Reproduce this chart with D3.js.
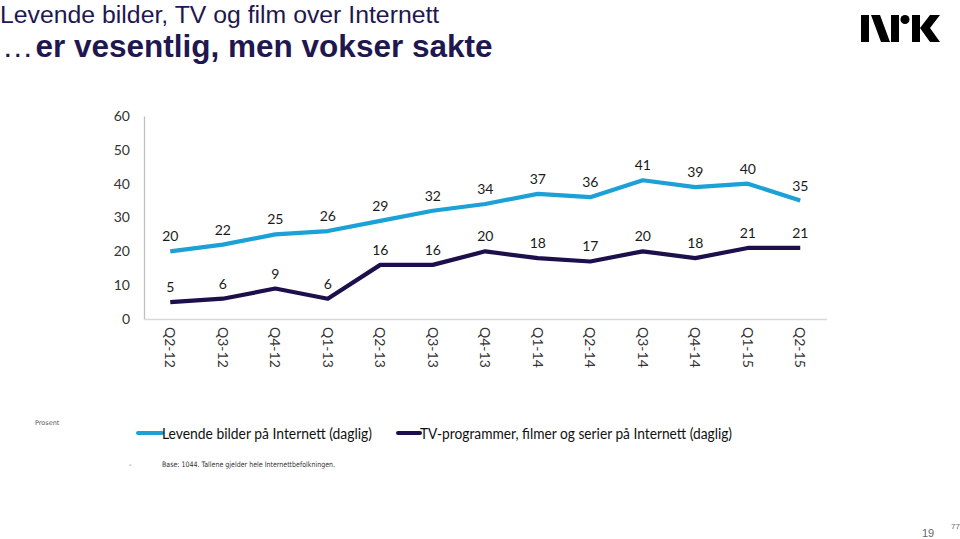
<!DOCTYPE html>
<html><head><meta charset="utf-8">
<script src="https://cdn.jsdelivr.net/npm/d3@7"></script>
<style>body{margin:0;background:#fff;}svg{display:block;}</style>
</head><body>
<svg id="c" width="960" height="539"></svg>
<script>
const categories = ["Q2-12","Q3-12","Q4-12","Q1-13","Q2-13","Q3-13","Q4-13","Q1-14","Q2-14","Q3-14","Q4-14","Q1-15","Q2-15"];
const levendeBilder = [20,22,25,26,29,32,34,37,36,41,39,40,35];
const tvProgrammer = [5,6,9,6,16,16,20,18,17,20,18,21,21];
const yTicks = [0,10,20,30,40,50,60];
const seriesNames = ["Levende bilder på Internett (daglig)","TV-programmer, filmer og serier på Internett (daglig)"];
const seriesColors = ["#1ba1d6","#1d0f4b"];

const svg = d3.select("#c");
const x = d3.scaleBand().domain(categories).range([144, 826.5]);
const y = d3.scaleLinear().domain([0,60]).range([319,116]);
const navy = "#1f1750";

// Title
svg.append("text").attr("x",0).attr("y",23).attr("font-family","Liberation Sans, Arial, sans-serif")
  .attr("font-size",24.8).attr("fill",navy).text("Levende bilder, TV og film over Internett");
const t2 = svg.append("text").attr("x",2).attr("y",57).attr("font-family","Liberation Sans, Arial, sans-serif")
  .attr("font-size",31.5).attr("fill",navy);
t2.append("tspan").text("…");
t2.append("tspan").attr("font-weight","bold").attr("dx",2).text("er vesentlig, men vokser sakte");

// NRK logo (shapes)
const logo = svg.append("g").attr("fill","#000");
logo.append("rect").attr("x",861).attr("y",15).attr("width",8).attr("height",27);
logo.append("polygon").attr("points","871,15 880,15 890,42 881,42");
logo.append("rect").attr("x",891).attr("y",15).attr("width",8).attr("height",27);
logo.append("circle").attr("cx",905).attr("cy",19.5).attr("r",4.5);
logo.append("rect").attr("x",912).attr("y",15).attr("width",8).attr("height",27);
logo.append("polygon").attr("points","920,28 930,15 940,15 930,28 940,42 930,42");

// Axes
const yAxis = d3.axisLeft(y).tickValues(yTicks).tickSize(0).tickPadding(14);
const gy = svg.append("g").attr("transform","translate(144,0)").call(yAxis);
gy.select(".domain").attr("stroke","#bfbfbf").attr("stroke-width",1.3);
gy.selectAll("text").attr("font-family","Lato, sans-serif").attr("font-size",14).attr("fill","#333");

const xAxis = d3.axisBottom(x).tickSize(0).tickPadding(0);
const gx = svg.append("g").attr("transform","translate(0,319)").call(xAxis);
gx.select(".domain").attr("stroke","#d9d9d9").attr("stroke-width",1.3);
gx.selectAll("text").attr("font-family","Lato, sans-serif").attr("font-size",14).attr("fill","#333")
  .attr("transform","rotate(90)").attr("text-anchor","start").attr("dy","0.35em").attr("x",8).attr("y",0);

// Lines
const line = d3.line().x((d,i)=>x(categories[i])+x.bandwidth()/2).y(d=>y(d));
[levendeBilder, tvProgrammer].forEach((vals,si)=>{
  svg.append("path").datum(vals).attr("d",line).attr("fill","none")
    .attr("stroke",seriesColors[si]).attr("stroke-width",4.2).attr("stroke-linejoin","round");
  svg.append("g").selectAll("text").data(vals).join("text")
    .attr("x",(d,i)=>x(categories[i])+x.bandwidth()/2).attr("y",d=>y(d)-10)
    .attr("text-anchor","middle").attr("font-family","Lato, sans-serif").attr("font-size",14).attr("fill","#1a1a1a")
    .text(d=>d);
});

// Legend
const lg = [{x1:138,x2:162,tx:162,len:210},{x1:398,x2:420,tx:420,len:312}];
lg.forEach((l,i)=>{
  svg.append("line").attr("x1",l.x1).attr("x2",l.x2).attr("y1",433).attr("y2",433)
    .attr("stroke",seriesColors[i]).attr("stroke-width",4).attr("stroke-linecap","round");
  svg.append("text").attr("x",l.tx).attr("y",439).attr("font-family","Lato, sans-serif").attr("font-size",15.5)
    .attr("fill","#111").attr("textLength",l.len).attr("lengthAdjust","spacingAndGlyphs").text(seriesNames[i]);
});

// Notes
svg.append("text").attr("x",35).attr("y",425).attr("font-family","DejaVu Sans, sans-serif").attr("font-size",6.5).attr("fill","#555").text("Prosent");
svg.append("text").attr("x",129).attr("y",467).attr("font-family","DejaVu Sans, sans-serif").attr("font-size",7).attr("fill","#555").text("-");
svg.append("text").attr("x",162).attr("y",467).attr("font-family","DejaVu Sans, sans-serif").attr("font-size",7.5).attr("fill","#333")
  .attr("textLength",173).attr("lengthAdjust","spacingAndGlyphs").text("Base: 1044. Tallene gjelder hele Internettbefolkningen.");
svg.append("text").attr("x",922).attr("y",537).attr("font-family","Liberation Sans, Arial, sans-serif").attr("font-size",11).attr("fill","#666").text("19");
svg.append("text").attr("x",951).attr("y",529).attr("font-family","Liberation Sans, Arial, sans-serif").attr("font-size",8).attr("fill","#666").text("77");
</script>
</body></html>
